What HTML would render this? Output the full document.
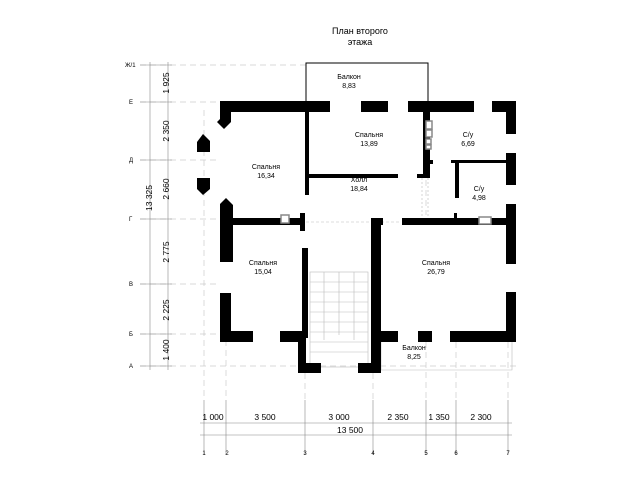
<!DOCTYPE html>
<html><head><meta charset="utf-8"><style>
html,body{margin:0;padding:0;background:#fff;}
svg{display:block;}
text{font-family:"Liberation Sans",sans-serif;fill:#000;}
</style></head><body>
<svg width="638" height="481" viewBox="0 0 638 481" xmlns="http://www.w3.org/2000/svg">
<text x="360" y="34" font-size="9" text-anchor="middle">План второго</text>
<text x="360" y="45" font-size="9" text-anchor="middle">этажа</text>

<!-- dashed axis lines -->
<g stroke="#ccc" stroke-width="0.7" stroke-dasharray="6,4" fill="none">
<line x1="140" y1="65" x2="306" y2="65"/>
<line x1="140" y1="102" x2="220" y2="102"/>
<line x1="140" y1="160" x2="220" y2="160"/>
<line x1="140" y1="219" x2="220" y2="219"/>
<line x1="140" y1="284" x2="220" y2="284"/>
<line x1="140" y1="334" x2="220" y2="334"/>
<line x1="140" y1="366" x2="520" y2="366"/>
<line x1="204" y1="110" x2="204" y2="400"/>
<line x1="226" y1="340" x2="226" y2="400"/>
<line x1="305" y1="373" x2="305" y2="400"/>
<line x1="373" y1="373" x2="373" y2="400"/>
<line x1="426" y1="180" x2="426" y2="215"/>
<line x1="426" y1="342" x2="426" y2="400"/>
<line x1="456" y1="342" x2="456" y2="400"/>
<line x1="508" y1="342" x2="508" y2="400"/>
</g>
<!-- dimension lines -->
<g stroke="#888" stroke-width="0.6" fill="none">
<line x1="150" y1="62" x2="150" y2="370"/>
<line x1="168" y1="62" x2="168" y2="370"/>
<line x1="140" y1="65" x2="172" y2="65"/>
<line x1="140" y1="102" x2="172" y2="102"/>
<line x1="140" y1="160" x2="172" y2="160"/>
<line x1="140" y1="219" x2="172" y2="219"/>
<line x1="140" y1="284" x2="172" y2="284"/>
<line x1="140" y1="334" x2="172" y2="334"/>
<line x1="140" y1="366" x2="172" y2="366"/>
<line x1="200" y1="423" x2="512" y2="423"/>
<line x1="200" y1="435" x2="512" y2="435"/>
<line x1="204" y1="400" x2="204" y2="455"/>
<line x1="226" y1="400" x2="226" y2="455"/>
<line x1="305" y1="400" x2="305" y2="455"/>
<line x1="373" y1="400" x2="373" y2="455"/>
<line x1="426" y1="400" x2="426" y2="455"/>
<line x1="456" y1="400" x2="456" y2="455"/>
<line x1="508" y1="400" x2="508" y2="455"/>
</g>
<g font-size="6">
<text x="125" y="67">Ж/1</text>
<text x="129" y="104">Е</text>
<text x="129" y="162">Д</text>
<text x="129" y="221">Г</text>
<text x="129" y="286">В</text>
<text x="129" y="336">Б</text>
<text x="129" y="368">А</text>
</g>
<g font-size="8.5" text-anchor="middle">
<text transform="translate(169,83) rotate(-90)">1 925</text>
<text transform="translate(169,131) rotate(-90)">2 350</text>
<text transform="translate(169,189) rotate(-90)">2 660</text>
<text transform="translate(169,252) rotate(-90)">2 775</text>
<text transform="translate(169,310) rotate(-90)">2 225</text>
<text transform="translate(169,350) rotate(-90)">1 400</text>
<text transform="translate(152,198) rotate(-90)">13 325</text>
<text x="213" y="420">1 000</text>
<text x="265" y="420">3 500</text>
<text x="339" y="420">3 000</text>
<text x="398" y="420">2 350</text>
<text x="439" y="420">1 350</text>
<text x="481" y="420">2 300</text>
<text x="350" y="433">13 500</text>
</g>
<g font-size="6" text-anchor="middle">
<text x="204" y="455">1</text><text x="227" y="455">2</text><text x="305" y="455">3</text>
<text x="373" y="455">4</text><text x="426" y="455">5</text><text x="456" y="455">6</text><text x="508" y="455">7</text>
</g>

<!-- thin lines: balconies, stairs -->
<g stroke="#000" stroke-width="1" fill="none">
<polyline points="306,102 306,63 428,63 428,102"/>
</g>
<g stroke="#bbb" stroke-width="0.6" fill="none">
<rect x="310" y="272" width="58" height="95"/>
<line x1="310" y1="282" x2="368" y2="282"/><line x1="310" y1="292" x2="368" y2="292"/>
<line x1="310" y1="302" x2="368" y2="302"/><line x1="310" y1="312" x2="368" y2="312"/>
<line x1="310" y1="322" x2="368" y2="322"/><line x1="310" y1="332" x2="368" y2="332"/>
<line x1="310" y1="342" x2="368" y2="342"/><line x1="310" y1="352" x2="368" y2="352"/>
<line x1="339" y1="272" x2="339" y2="335"/>
<line x1="324" y1="272" x2="324" y2="340"/><line x1="354" y1="272" x2="354" y2="340"/>
<polyline points="381,342 381,370 512,370 512,342"/>
<line x1="306" y1="222" x2="400" y2="222" stroke-dasharray="3,2"/>
<line x1="422" y1="178" x2="422" y2="218" stroke-dasharray="2,2"/>
<line x1="428" y1="178" x2="428" y2="218" stroke-dasharray="2,2"/>
</g>

<!-- walls -->
<g fill="#000">
<rect x="220" y="101" width="110" height="11"/>
<rect x="361" y="101" width="27" height="11"/>
<rect x="408" y="101" width="66" height="11"/>
<rect x="492" y="101" width="24" height="11"/>
<rect x="506" y="101" width="10" height="33"/>
<rect x="506" y="153" width="10" height="32"/>
<rect x="506" y="204" width="10" height="60"/>
<rect x="506" y="292" width="10" height="50"/>
<polygon points="220,101 239,101 239,112 231,112 231,122 224,129 217,122 220,119"/>
<polygon points="197,152 197,142 203,134 210,141 210,152"/>
<polygon points="197,178 210,178 210,189 203,195 197,189"/>
<polygon points="220,204 226,198 233,205 233,262 220,262"/>
<rect x="220" y="218" width="85" height="7"/>
<rect x="300" y="213" width="5" height="18"/>
<rect x="220" y="293" width="11" height="49"/>
<rect x="220" y="331" width="33" height="11"/>
<rect x="280" y="331" width="25" height="11"/>
<rect x="298" y="331" width="8" height="42"/>
<rect x="298" y="363" width="23" height="10"/>
<rect x="302" y="248" width="6" height="90"/>
<rect x="358" y="363" width="23" height="10"/>
<rect x="371" y="218" width="10" height="155"/>
<rect x="371" y="218" width="12" height="7"/>
<rect x="402" y="218" width="104" height="7"/>
<rect x="454" y="213" width="3" height="6"/>
<rect x="376" y="331" width="22" height="11"/>
<rect x="418" y="331" width="14" height="11"/>
<rect x="450" y="331" width="66" height="11"/>
<rect x="305" y="102" width="4" height="93"/>
<rect x="309" y="174" width="89" height="4"/>
<rect x="423" y="112" width="7" height="66"/>
<rect x="417" y="174" width="13" height="4"/>
<rect x="430" y="160" width="3" height="4"/>
<rect x="451" y="160" width="55" height="3"/>
<rect x="455" y="160" width="4" height="38"/>
</g>
<g fill="#fff" stroke="#888" stroke-width="1.5">
<rect x="281" y="215" width="8" height="8"/>
<rect x="426" y="121" width="6" height="8"/>
<rect x="426" y="130" width="6" height="7"/>
<rect x="426" y="139" width="5" height="5"/>
<rect x="426" y="145" width="5" height="4"/>
<rect x="479" y="217" width="12" height="7"/>
</g>

<g font-size="7" text-anchor="middle">
<text x="349" y="79">Балкон</text><text x="349" y="88">8,83</text>
<text x="369" y="137">Спальня</text><text x="369" y="146">13,89</text>
<text x="266" y="169">Спальня</text><text x="266" y="178">16,34</text>
<text x="359" y="182">Холл</text><text x="359" y="191">18,84</text>
<text x="468" y="137">С/у</text><text x="468" y="146">6,69</text>
<text x="479" y="191">С/у</text><text x="479" y="200">4,98</text>
<text x="263" y="265">Спальня</text><text x="263" y="274">15,04</text>
<text x="436" y="265">Спальня</text><text x="436" y="274">26,79</text>
<text x="414" y="350">Балкон</text><text x="414" y="359">8,25</text>
</g>
</svg>
</body></html>
